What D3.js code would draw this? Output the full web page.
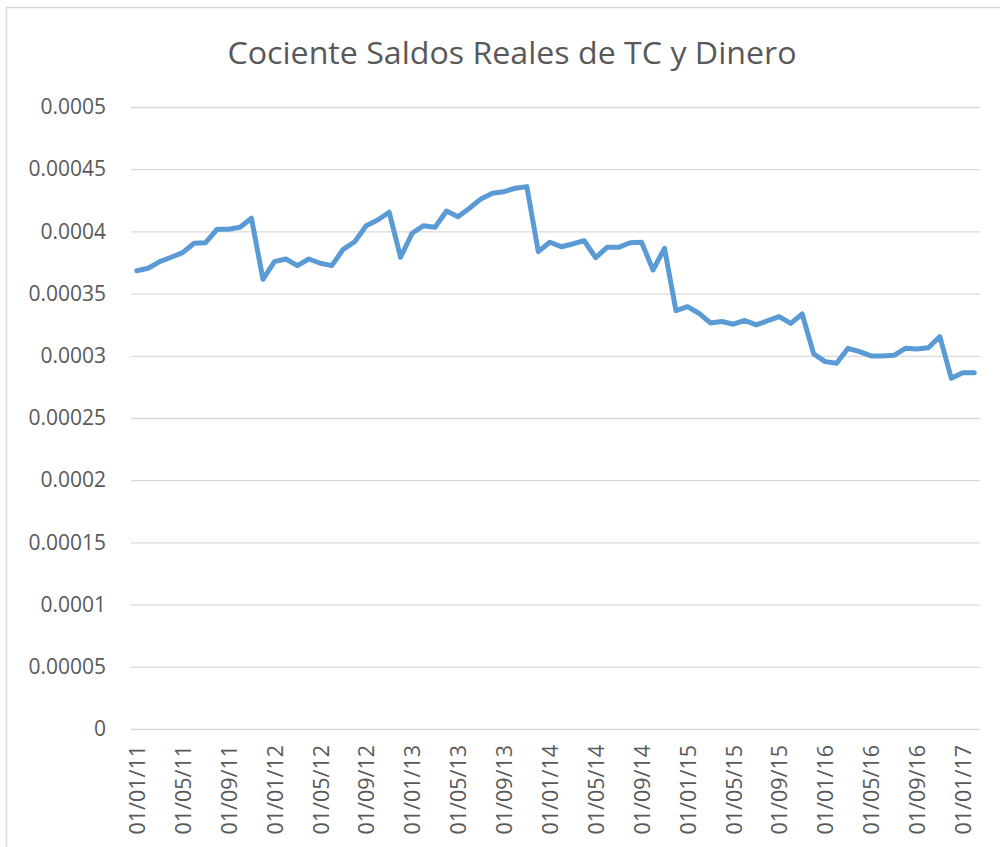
<!DOCTYPE html>
<html>
<head>
<meta charset="utf-8">
<script src="https://cdn.jsdelivr.net/npm/d3@7"></script>
<style>
	body { margin: 0; background: #fff; }
	svg { display: block; }
</style>
</head>
<body>
<div id="chart"></div>
<script>
// monthly categories, Jan 2011 .. Feb 2017
var startMonth = new Date(2011, 0, 1),
	endMonth = new Date(2017, 2, 1);
var months = d3.timeMonth.range(startMonth, endMonth);

var ratio = [
	0.0003684, 0.0003704, 0.0003757, 0.0003792, 0.0003829, 0.0003905, 0.0003909, 0.0004017, 0.0004017, 0.0004033, 0.0004106, 0.0003615,
	0.0003757, 0.0003778, 0.0003725, 0.0003778, 0.0003744, 0.0003725, 0.0003856, 0.0003917, 0.0004046, 0.0004092, 0.0004154, 0.0003792,
	0.0003985, 0.0004046, 0.0004033, 0.0004164, 0.0004118, 0.0004186, 0.0004261, 0.0004307, 0.0004319, 0.0004347, 0.0004360, 0.0003837,
	0.0003913, 0.0003877, 0.0003899, 0.0003925, 0.0003789, 0.0003872, 0.0003872, 0.0003909, 0.0003913, 0.0003690, 0.0003864, 0.0003363,
	0.0003395, 0.0003342, 0.0003264, 0.0003276, 0.0003254, 0.0003284, 0.0003248, 0.0003282, 0.0003315, 0.0003261, 0.0003336, 0.0003015,
	0.0002953, 0.0002940, 0.0003060, 0.0003033, 0.0002999, 0.0002999, 0.0003004, 0.0003060, 0.0003055, 0.0003065, 0.0003154, 0.0002819,
	0.0002864, 0.0002864
];

var yTicks = [0, 0.00005, 0.0001, 0.00015, 0.0002, 0.00025, 0.0003, 0.00035, 0.0004, 0.00045, 0.0005];
var titleText = "Cociente Saldos Reales de TC y Dinero";

var width = 1000, height = 847;
var margin = {top: 107, right: 20, bottom: 118, left: 131};
var textColor = "#595959", gridColor = "#d9d9d9", lineColor = "#5b9bd5";
var fmtDate = d3.timeFormat("%d/%m/%y");

var svg = d3.select("#chart").append("svg")
	.attr("width", width)
	.attr("height", height);

// outer chart frame (right / bottom edge fall outside the window)
svg.append("rect")
	.attr("x", 6.5).attr("y", 7.5)
	.attr("width", 1010).attr("height", 870)
	.attr("fill", "none").attr("stroke", gridColor).attr("stroke-width", 1.5);

var x = d3.scalePoint()
	.domain(months.map(function (d) { return fmtDate(d); }))
	.range([margin.left, width - margin.right])
	.padding(0.5);

var y = d3.scaleLinear()
	.domain([0, 0.0005])
	.range([height - margin.bottom, margin.top]);

svg.append("text")
	.attr("x", 512).attr("y", 64)
	.attr("text-anchor", "middle")
	.attr("font-family", "Open Sans, sans-serif")
	.attr("font-size", 31)
	.attr("fill", textColor)
	.attr("textLength", 569)
	.attr("lengthAdjust", "spacingAndGlyphs")
	.text(titleText);

// gridlines + y labels
var yAxis = d3.axisLeft(y)
	.tickValues(yTicks)
	.tickSize(-(width - margin.right - margin.left))
	.tickPadding(25)
	.tickFormat(function (d) { return d === 0 ? "0" : String(+d.toFixed(5)); });

var gy = svg.append("g")
	.attr("transform", "translate(" + margin.left + ",0)")
	.call(yAxis);
gy.select(".domain").remove();
gy.selectAll("line").attr("stroke", gridColor).attr("stroke-width", 1.3);
gy.selectAll("text")
	.attr("fill", textColor)
	.attr("font-family", "Open Sans, sans-serif")
	.attr("font-size", 21);

// x labels every 4 months
var xAxis = d3.axisBottom(x)
	.tickValues(x.domain().filter(function (d, i) { return i % 4 === 0; }))
	.tickSize(0)
	.tickPadding(0);

var gx = svg.append("g")
	.attr("transform", "translate(0," + (height - margin.bottom) + ")")
	.call(xAxis);
gx.select(".domain").remove();
gx.selectAll("text")
	.attr("fill", textColor)
	.attr("font-family", "Open Sans, sans-serif")
	.attr("font-size", 21.5)
	.attr("transform", "rotate(-90)")
	.attr("text-anchor", "end")
	.attr("x", -16)
	.attr("y", 0)
	.attr("dy", "0.36em");

var line = d3.line()
	.x(function (d, i) { return x(x.domain()[i]); })
	.y(function (d) { return y(d); });

svg.append("path")
	.datum(ratio)
	.attr("d", line)
	.attr("fill", "none")
	.attr("stroke", lineColor)
	.attr("stroke-width", 5)
	.attr("stroke-linejoin", "round")
	.attr("stroke-linecap", "round");
</script>
</body>
</html>
